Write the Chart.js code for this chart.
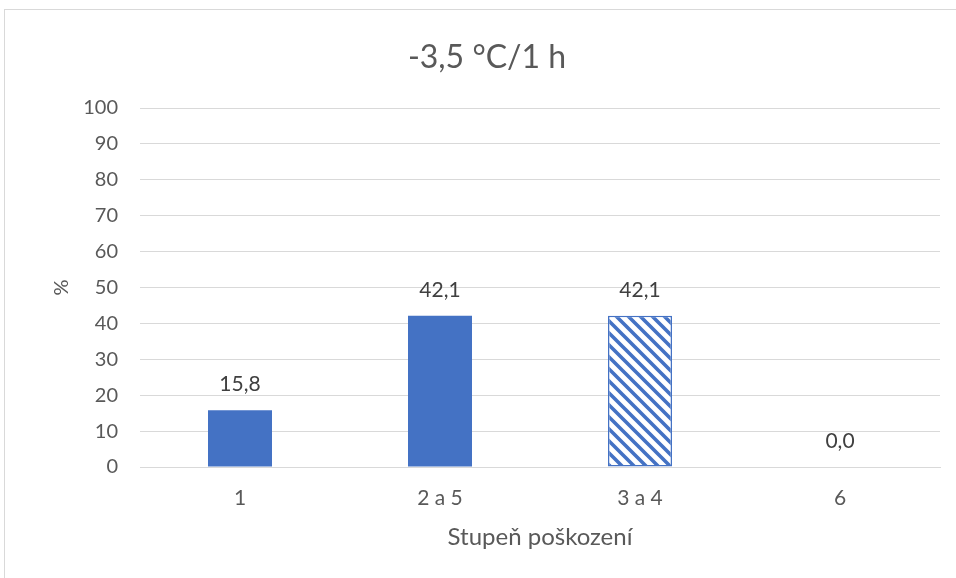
<!DOCTYPE html>
<html>
<head>
    <script src="https://cdn.jsdelivr.net/npm/chart.js@4.4.1/dist/chart.umd.min.js"></script>
    <title>-3,5 °C/1 h</title>
    <style>
        body { margin: 0; background: #fff; }
        #frame { position: absolute; left: 4px; top: 9px; width: 970px; height: 590px; border: 1px solid #d9d9d9; }
        #chart-area { position: absolute; left: 0; top: 0; width: 956px; height: 578px; }
    </style>
</head>

<body>
<div id="frame"></div>
<div id="chart-area">
<canvas id="myChart" width="956" height="578"></canvas>
</div>

<script>
    // chart data
    var categories = ['1', '2 a 5', '3 a 4', '6'];
    var percentValues = [15.8, 42.1, 42.1, 0.0];
    var hatchedIndex = 2;
    var yTicks = [0, 10, 20, 30, 40, 50, 60, 70, 80, 90, 100];

    var blue = '#4472C4';
    var fontName = 'Lato, "Open Sans", sans-serif';

    // diagonal stripes for the "3 a 4" bar
    function makeHatch() {
        var c = document.createElement('canvas');
        c.width = 12;
        c.height = 12;
        var g = c.getContext('2d');
        g.fillStyle = '#fff';
        g.fillRect(0, 0, 12, 12);
        g.strokeStyle = blue;
        g.lineWidth = 3.6;
        g.beginPath();
        g.moveTo(-3, -3); g.lineTo(15, 15);
        g.moveTo(-3, 9); g.lineTo(3, 15);
        g.moveTo(9, -3); g.lineTo(15, 3);
        g.stroke();
        return g.createPattern(c, 'repeat');
    }
    var hatch = makeHatch();

    var fills = percentValues.map(function(v, i) { return i === hatchedIndex ? hatch : blue; });
    var borders = percentValues.map(function(v, i) { return i === hatchedIndex ? 1.5 : 0; });

    // value labels above bars
    var valueLabels = {
        id: 'valueLabels',
        afterDatasetsDraw: function(chart) {
            var ctx = chart.ctx;
            var meta = chart.getDatasetMeta(0);
            ctx.save();
            ctx.font = '21px ' + fontName;
            ctx.fillStyle = '#404040';
            ctx.textAlign = 'center';
            ctx.textBaseline = 'alphabetic';
            meta.data.forEach(function(bar, i) {
                var txt = percentValues[i].toFixed(1).replace('.', ',');
                ctx.fillText(txt, bar.x, bar.y - 19);
            });
            ctx.restore();
        }
    };

    var ctx = document.getElementById('myChart').getContext('2d');
    var myChart = new Chart(ctx, {
        type: 'bar',
        data: {
            labels: categories,
            datasets: [
                {
                    label: '%',
                    data: percentValues,
                    backgroundColor: fills,
                    borderColor: blue,
                    borderWidth: borders,
                    borderSkipped: false,
                    barPercentage: 0.32,
                    categoryPercentage: 1.0
                }
            ]
        },
        options: {
            responsive: false,
            animation: false,
            layout: {
                // left padding keeps the title centred like the original
                padding: { left: 34, right: 16, top: 0, bottom: 0 }
            },
            scales: {
                x: {
                    grid: { display: false },
                    border: { color: '#d9d9d9', width: 1 },
                    ticks: { color: '#595959', font: { family: fontName, size: 21 }, padding: 11 },
                    title: {
                        display: true,
                        text: 'Stupeň poškození',
                        color: '#595959',
                        font: { family: fontName, size: 24 },
                        padding: { top: 0, bottom: 26 }
                    },
                    afterFit: function(scale) { scale.height = 111; }
                },
                y: {
                    min: 0,
                    max: 100,
                    afterBuildTicks: function(scale) {
                        scale.ticks = yTicks.map(function(v) { return { value: v }; });
                    },
                    grid: { color: '#d9d9d9', drawTicks: false },
                    border: { display: false },
                    ticks: { color: '#595959', font: { family: fontName, size: 20 }, padding: 22 },
                    title: {
                        display: true,
                        text: '%',
                        color: '#595959',
                        font: { family: fontName, size: 20 },
                        padding: { top: 16, bottom: 0 }
                    },
                    afterFit: function(scale) { scale.width = 106; }
                }
            },
            plugins: {
                legend: { display: false },
                tooltip: { enabled: false },
                title: {
                    display: true,
                    text: '-3,5 °C/1 h',
                    color: '#595959',
                    font: { family: fontName, size: 32, weight: 'normal' },
                    padding: { top: 38, bottom: 31.6 }
                }
            }
        },
        plugins: [valueLabels]
    });
</script>

</body>
</html>
